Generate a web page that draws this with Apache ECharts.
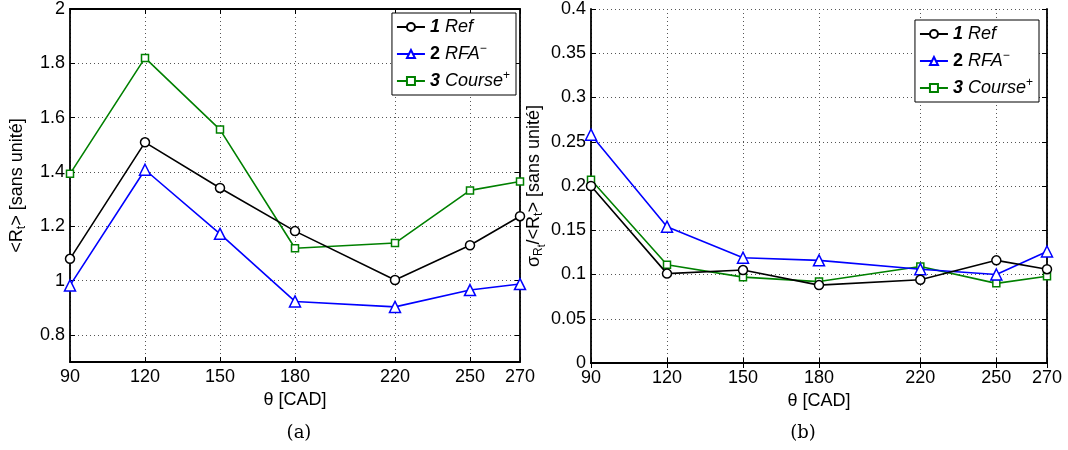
<!DOCTYPE html>
<html><head><meta charset="utf-8">
<script src="https://cdn.jsdelivr.net/npm/echarts@6/dist/echarts.min.js"></script>
<style>html,body{margin:0;padding:0;background:#fff}#c{width:1068px;height:450px}</style>
</head><body><div id="c"></div>
<script>
const theta = [90, 120, 150, 180, 220, 250, 270];
const xTicks = [90, 120, 150, 180, 220, 250, 270];
const meanRef = [1.080, 1.509, 1.341, 1.182, 1.002, 1.130, 1.237];
const meanRFA = [0.982, 1.408, 1.172, 0.923, 0.903, 0.965, 0.987];
const meanCourse = [1.393, 1.820, 1.556, 1.119, 1.138, 1.332, 1.365];
const cvRef = [0.200, 0.101, 0.105, 0.088, 0.094, 0.116, 0.106];
const cvRFA = [0.258, 0.154, 0.119, 0.116, 0.106, 0.100, 0.126];
const cvCourse = [0.207, 0.111, 0.097, 0.092, 0.109, 0.090, 0.098];
const yTicksA = [0.8, 1, 1.2, 1.4, 1.6, 1.8, 2];
const yTicksB = [0, 0.05, 0.1, 0.15, 0.2, 0.25, 0.3, 0.35, 0.4];
const names = ['1 Ref', '2 RFA', '3 Course'];

const FONT = '"Liberation Sans", Arial, sans-serif';
const FS = 18;
const zip = (xs, ys) => xs.map((x, i) => [x, ys[i]]);
const split = {show: true, lineStyle: {color: '#555', type: [1, 3], width: 1}};
const axLine = {show: true, lineStyle: {color: '#000', width: 1.8}};

function xAx(grid, main) {
  return {
    type: 'value', gridIndex: grid, min: 90, max: 270, position: main ? 'bottom' : 'top',
    axisLine: axLine,
    axisTick: {show: true, inside: true, length: 5, customValues: xTicks, lineStyle: {color: '#000'}},
    axisLabel: {show: main, customValues: xTicks, color: '#000', fontSize: FS, fontFamily: FONT, margin: 6},
    splitLine: main ? split : {show: false},
    name: main ? 'θ [CAD]' : '', nameLocation: 'middle', nameGap: 25,
    nameTextStyle: {color: '#000', fontSize: FS, fontFamily: FONT}
  };
}
function yAx(grid, main, min, max, ticks, fmt, name, gap) {
  return {
    type: 'value', gridIndex: grid, min: min, max: max, position: main ? 'left' : 'right',
    axisLine: axLine,
    axisTick: {show: true, inside: true, length: 5, customValues: ticks, lineStyle: {color: '#000'}},
    axisLabel: {show: main, customValues: ticks, formatter: fmt, color: '#000', fontSize: FS, fontFamily: FONT, margin: 5},
    splitLine: main ? split : {show: false},
    name: main ? name : '', nameLocation: 'middle', nameGap: gap, nameRotate: 90,
    nameTextStyle: {color: '#000', fontSize: FS, fontFamily: FONT,
      rich: {sub: {fontSize: 12, fontFamily: FONT, color: '#000', padding: [9, 0, 0, 0]},
             subsub: {fontSize: 10, fontFamily: FONT, color: '#000', padding: [16, 0, 0, 0]}}}
  };
}

const legRich = {
  b: {fontWeight: 'bold', fontStyle: 'italic', fontSize: FS, fontFamily: FONT, color: '#000'},
  bu: {fontWeight: 'bold', fontSize: FS, fontFamily: FONT, color: '#000'},
  i: {fontStyle: 'italic', fontSize: FS, fontFamily: FONT, color: '#000'},
  sup: {fontSize: 12, fontFamily: FONT, color: '#000', padding: [0, 0, 10, 0]}
};
function legFmt(n) {
  if (n === '1 Ref') return '{b|1} {i|Ref}';
  if (n === '2 RFA') return '{bu|2} {i|RFA}{sup|−}';
  return '{b|3} {i|Course}{sup|+}';
}
function legend(right, top) {
  return {
    data: names, orient: 'vertical', right: right, top: top, itemGap: 7, itemWidth: 28, itemHeight: 10,
    padding: [5, 6, 5, 4], borderColor: '#000', borderWidth: 1, backgroundColor: '#fff',
    formatter: legFmt, textStyle: {rich: legRich, fontSize: FS}, selectedMode: false
  };
}

const styles = [
  {color: '#000000', symbol: 'circle', symbolSize: 9},
  {color: '#0000ff', symbol: 'triangle', symbolSize: 11},
  {color: '#008000', symbol: 'rect', symbolSize: 7}
];
function ser(i, data, xi, yi) {
  const s = styles[i];
  return {
    type: 'line', name: names[i], xAxisIndex: xi, yAxisIndex: yi, data: data,
    symbol: s.symbol, symbolSize: s.symbolSize, showSymbol: true,
    lineStyle: {color: s.color, width: 1.6},
    itemStyle: {color: '#fff', borderColor: s.color, borderWidth: 1.5},
    emphasis: {disabled: true}, animation: false, z: 3 - i + 5
  };
}

const chart = echarts.init(document.getElementById('c'), null, {renderer: 'canvas'});
chart.setOption({
  backgroundColor: '#fff',
  animation: false,
  grid: [
    {left: 70, right: 548, top: 7, bottom: 88},
    {left: 591, right: 21, top: 7, bottom: 87}
  ],
  xAxis: [xAx(0, true), xAx(0, false), xAx(1, true), xAx(1, false)],
  yAxis: [
    yAx(0, true, 0.7, 2, yTicksA, v => String(Math.round(v * 10) / 10), '<R{sub|t}> [sans unité]', 42),
    yAx(0, false, 0.7, 2, yTicksA),
    yAx(1, true, 0, 0.4, yTicksB, v => String(Math.round(v * 100) / 100), 'σ{sub|R}{subsub|t}/<R{sub|t}> [sans unité]', 34),
    yAx(1, false, 0, 0.4, yTicksB)
  ],
  legend: [legend(552, 13), legend(29, 20)],
  title: [
    {text: '(a)', left: 294, top: 419, textAlign: 'center', textStyle: {fontFamily: '"DejaVu Serif", serif', fontWeight: 'normal', fontSize: 18, color: '#000'}},
    {text: '(b)', left: 798, top: 419, textAlign: 'center', textStyle: {fontFamily: '"DejaVu Serif", serif', fontWeight: 'normal', fontSize: 18, color: '#000'}}
  ],
  series: [
    ser(0, zip(theta, meanRef), 0, 0),
    ser(1, zip(theta, meanRFA), 0, 0),
    ser(2, zip(theta, meanCourse), 0, 0),
    ser(0, zip(theta, cvRef), 2, 2),
    ser(1, zip(theta, cvRFA), 2, 2),
    ser(2, zip(theta, cvCourse), 2, 2)
  ]
});
</script></body></html>
